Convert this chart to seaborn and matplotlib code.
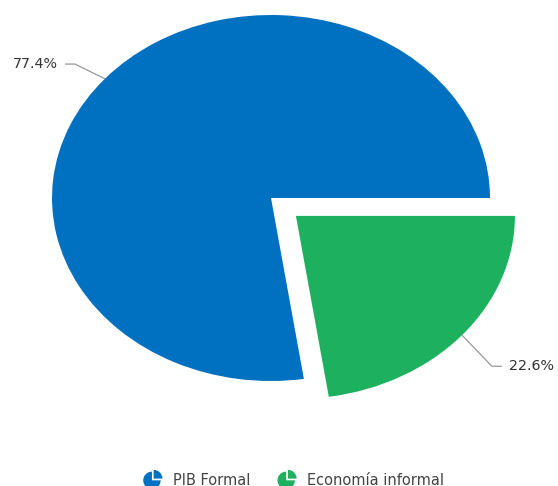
import numpy as np
import matplotlib
matplotlib.use("Agg")
import matplotlib.pyplot as plt
import seaborn as sns
from matplotlib.patches import Wedge
from matplotlib.legend_handler import HandlerPatch

categories = ["PIB Formal", "Economía informal"]
values = [77.4, 22.6]
colors = ["#0070C0", "#1DB05F"]
explode = [0.0, 0.15]
# connector elbow offsets (styling, in axes units)
elbow_dy = [0.08, -0.17]

sns.set_style("white")
plt.rcParams['font.family'] = ['DejaVu Sans']

fig = plt.figure(figsize=(5.58, 4.86), dpi=100)
ax = fig.add_axes([52/558, (486-381)/486, 438/558, 366/486])
wedges, _ = ax.pie(values, colors=colors, startangle=0, counterclock=True,
                   explode=explode, radius=1.0,
                   wedgeprops=dict(linewidth=0))
ax.set_aspect('auto')
ax.set_xlim(-1, 1)
ax.set_ylim(-1, 1)
ax.axis('off')
for w in wedges:
    w.set_clip_on(False)

total = sum(values)
start = 0.0
for v, e, dy in zip(values, explode, elbow_dy):
    span = 360 * v / total
    mid = np.deg2rad(start + span / 2)
    start += span
    cx, cy = np.cos(mid), np.sin(mid)
    ex, ey = cx * (1 + e), cy * (1 + e)
    sgn = 1 if cx > 0 else -1
    elx, ely = ex + sgn * 0.137, ey + dy
    hx = elx + sgn * 0.045
    ax.plot([ex, elx, hx], [ey, ely, ely], color="#999999", lw=0.9,
            clip_on=False, solid_capstyle='butt')
    ax.text(hx + sgn * 0.032, ely, f"{v:.1f}%", ha='left' if sgn > 0 else 'right',
            va='center', fontsize=10.3, color="#333333", clip_on=False)


class PieIconHandler(HandlerPatch):
    def create_artists(self, legend, orig_handle, xdescent, ydescent,
                       width, height, fontsize, trans):
        r = height * 0.72
        cx = width / 2 - xdescent
        cy = height / 2 - ydescent
        fc = orig_handle.get_facecolor()
        w1 = Wedge((cx - r * 0.1, cy - r * 0.1), r, 90, 360, facecolor=fc, edgecolor='none', transform=trans)
        w2 = Wedge((cx + r * 0.1, cy + r * 0.1), r, 0, 90, facecolor=fc, edgecolor='none', transform=trans)
        return [w1, w2]


handles = [Wedge((0, 0), 1, 0, 360, facecolor=c) for c in colors]
fig.legend(handles, categories, loc='center', bbox_to_anchor=(295/558, 1 - 480/486),
           ncol=2, frameon=False, fontsize=10.5, handlelength=1.0, handleheight=0.9,
           columnspacing=2.0, handletextpad=0.9, borderpad=0, borderaxespad=0,
           handler_map={Wedge: PieIconHandler()}, labelcolor="#444444")

fig.savefig("out.png", dpi=100)
